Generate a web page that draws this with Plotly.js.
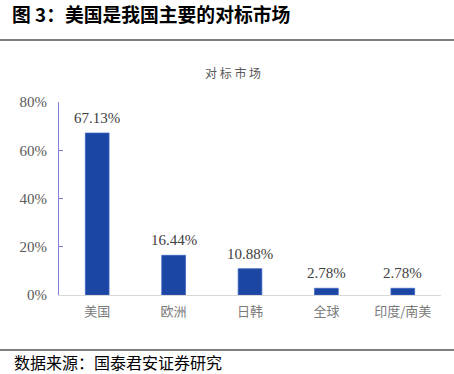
<!DOCTYPE html>
<html>
<head>
<meta charset="utf-8">
<script src="https://cdn.plot.ly/plotly-3.0.1.min.js"></script>
<style>html,body{margin:0;padding:0;background:#fff;}#chart{width:454px;height:374px;}</style>
</head>
<body>
<div id="chart"></div>
<script>
var categories = ["美国", "欧洲", "日韩", "全球", "印度/南美"];
var shares = [67.13, 16.44, 10.88, 2.78, 2.78];
var shareLabels = ["67.13%", "16.44%", "10.88%", "2.78%", "2.78%"];
var yTicks = [0, 20, 40, 60, 80];
var yTickLabels = ["0%", "20%", "40%", "60%", "80%"];

var W = 454, H = 374, L = 59, R = 13, T = 102, B = 79;
var pw = W - L - R, ph = H - T - B;
function px(x) { return (x - L) / pw; }
function py(y) { return (H - B - y) / ph; }

var trace = {
  type: "bar",
  x: categories,
  y: shares,
  marker: {color: "#1c46a4", line: {color: "#3a62c0", width: 0.8}},
  hoverinfo: "none"
};

var labelAnnotations = categories.map(function (c, i) {
  return {text: shareLabels[i], x: c, y: shares[i], xref: "x", yref: "y",
          xanchor: "center", yanchor: "bottom", yshift: 5, showarrow: false,
          font: {family: "Liberation Serif, serif", size: 15, color: "#404040"}};
});

var layout = {
  width: W, height: H,
  margin: {l: L, r: R, t: T, b: B, pad: 0},
  paper_bgcolor: "#ffffff",
  plot_bgcolor: "#ffffff",
  showlegend: false,
  bargap: 0.69,
  title: {
    text: "<b>图 3：美国是我国主要的对标市场</b>",
    font: {family: "Noto Sans CJK SC", size: 18.8, color: "#000000"},
    xref: "container", yref: "container",
    x: 12 / W, xanchor: "left",
    y: 1 - 15 / H, yanchor: "middle"
  },
  xaxis: {
    type: "category",
    showline: true, linecolor: "#d9d9d9", linewidth: 1,
    ticks: "", showgrid: false, zeroline: false,
    tickfont: {family: "Noto Sans CJK SC", size: 13, color: "#7a7a7a"},
    ticklabelstandoff: 4,
    fixedrange: true
  },
  yaxis: {
    range: [0, 80],
    tickvals: yTicks, ticktext: yTickLabels,
    showline: true, linecolor: "#8080d8", linewidth: 1,
    ticks: "inside", ticklen: 4, tickcolor: "#8080d8",
    showgrid: false, zeroline: false,
    tickfont: {family: "Liberation Serif, serif", size: 15, color: "#595959"},
    ticklabelstandoff: 8,
    fixedrange: true
  },
  annotations: labelAnnotations.concat([
    {text: "对 标 市 场", xref: "paper", yref: "paper", x: px(233), y: py(73),
     xanchor: "center", yanchor: "middle", showarrow: false,
     font: {family: "Noto Sans CJK SC", size: 12, color: "#595959"}},
    {text: "数据来源：国泰君安证券研究", xref: "paper", yref: "paper", x: px(12), y: py(362),
     xanchor: "left", yanchor: "middle", showarrow: false,
     font: {family: "Noto Sans CJK SC", size: 16, color: "#000000"}}
  ]),
  shapes: [
    {type: "line", xref: "paper", yref: "paper", x0: px(0), x1: px(454), y0: py(40), y1: py(40),
     line: {color: "#000000", width: 1.2}},
    {type: "line", xref: "paper", yref: "paper", x0: px(0), x1: px(454), y0: py(350), y1: py(350),
     line: {color: "#000000", width: 1.2}}
  ]
};

Plotly.newPlot("chart", [trace], layout, {staticPlot: true, displayModeBar: false});
</script>
</body>
</html>
